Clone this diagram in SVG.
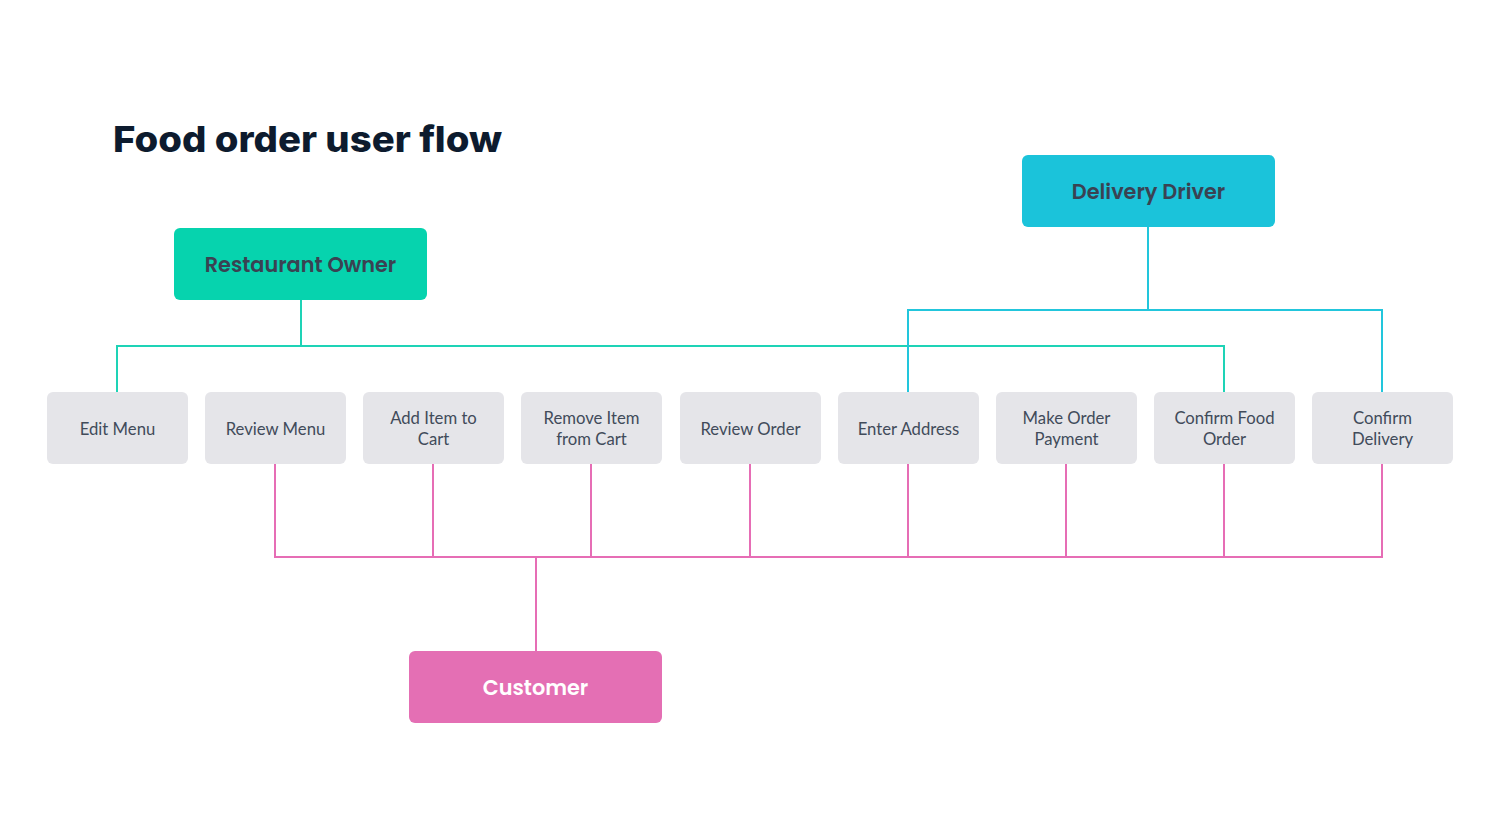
<svg xmlns="http://www.w3.org/2000/svg" width="1502" height="838" viewBox="0 0 1502 838">
<style>
.task rect{fill:#E5E5E9}
.task text{font-family:Lato,"Liberation Sans",sans-serif;font-size:16.7px;fill:#414B5A;text-anchor:middle}
.role text{font-family:Poppins,Inter,"Open Sans",sans-serif;font-size:20.8px;font-weight:600;fill:#3A4252;text-anchor:middle}
.teal{stroke:#1ED3B6;stroke-width:2;fill:none}
.cyan{stroke:#22C6DC;stroke-width:2;fill:none}
.pink{stroke:#E66DB5;stroke-width:2;fill:none}
</style>
<rect width="1502" height="838" fill="#FFFFFF"/>
<text x="113" y="152" font-family="Inter,'Open Sans',sans-serif" font-size="36" font-weight="800" fill="#0D1B2E" textLength="389" lengthAdjust="spacingAndGlyphs">Food order user flow</text>
<g id="connectors">
<path class="teal" d="M301 300V346M117 392V346H1224V392"/>
<path class="cyan" d="M1148 227V310M908 392V310H1382V392"/>
<path class="pink" d="M275 464V557H1382V464M433 464V557M591 464V557M750 464V557M908 464V557M1066 464V557M1224 464V557M536 557V651"/>
</g>
<g id="restaurant-owner" class="role"><rect x="174" y="228" width="253" height="72" rx="6" fill="#06D3AE"/><text x="300.5" y="272">Restaurant Owner</text></g>
<g id="delivery-driver" class="role"><rect x="1022" y="155" width="253" height="72" rx="6" fill="#1BC3DA"/><text x="1148.5" y="199">Delivery Driver</text></g>
<g id="customer" class="role"><rect x="409" y="651" width="253" height="72" rx="6" fill="#E46FB4"/><text x="535.5" y="695" style="fill:#FFFFFF">Customer</text></g>
<g id="edit-menu" class="task"><rect x="47" y="392" width="141" height="72" rx="6"/><text x="117.5" y="435">Edit Menu</text></g>
<g id="review-menu" class="task"><rect x="205" y="392" width="141" height="72" rx="6"/><text x="275.5" y="435">Review Menu</text></g>
<g id="add-item" class="task"><rect x="363" y="392" width="141" height="72" rx="6"/><text x="433.5" y="424">Add Item to</text><text x="433.5" y="445">Cart</text></g>
<g id="remove-item" class="task"><rect x="521" y="392" width="141" height="72" rx="6"/><text x="591.5" y="424">Remove Item</text><text x="591.5" y="445">from Cart</text></g>
<g id="review-order" class="task"><rect x="680" y="392" width="141" height="72" rx="6"/><text x="750.5" y="435">Review Order</text></g>
<g id="enter-address" class="task"><rect x="838" y="392" width="141" height="72" rx="6"/><text x="908.5" y="435">Enter Address</text></g>
<g id="make-payment" class="task"><rect x="996" y="392" width="141" height="72" rx="6"/><text x="1066.5" y="424">Make Order</text><text x="1066.5" y="445">Payment</text></g>
<g id="confirm-food" class="task"><rect x="1154" y="392" width="141" height="72" rx="6"/><text x="1224.5" y="424">Confirm Food</text><text x="1224.5" y="445">Order</text></g>
<g id="confirm-delivery" class="task"><rect x="1312" y="392" width="141" height="72" rx="6"/><text x="1382.5" y="424">Confirm</text><text x="1382.5" y="445">Delivery</text></g>
</svg>
